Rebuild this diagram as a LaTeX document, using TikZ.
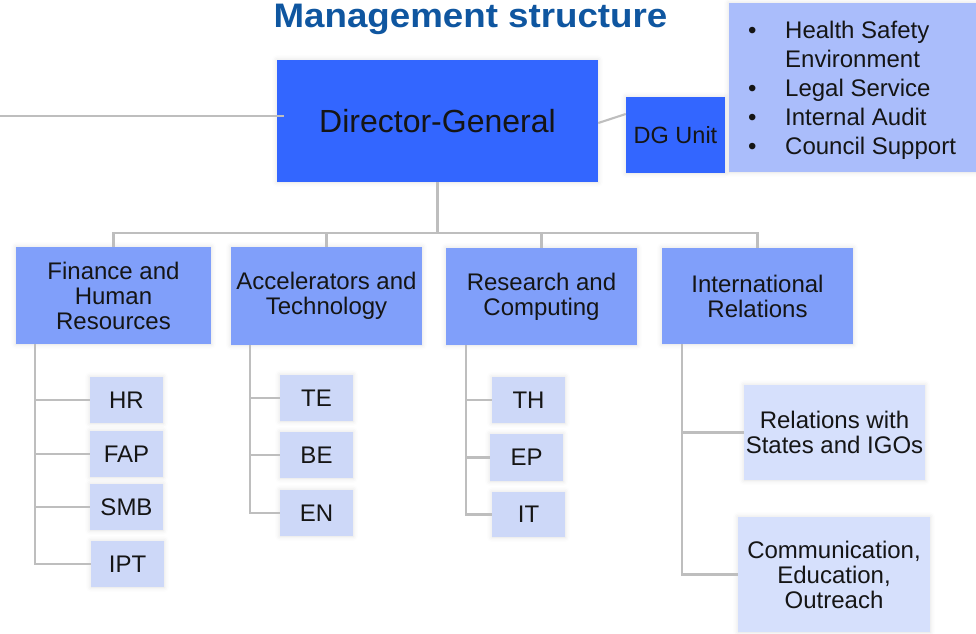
\documentclass[tikz,border=0pt]{standalone}
\usepackage{fontspec}
\setmainfont{Liberation Sans}
\newfontfamily\headfont{Liberation Sans}[FakeStretch=1.08]
\usetikzlibrary{shadows.blur}

\definecolor{dgblue}{HTML}{3366FF}
\definecolor{deptblue}{HTML}{809FFA}
\definecolor{listblue}{HTML}{AABDFB}
\definecolor{unitblue}{HTML}{CDD8F8}
\definecolor{irblue}{HTML}{D6E0FC}
\definecolor{headblue}{HTML}{0F56A0}
\definecolor{linkgray}{HTML}{BEBEBE}
\definecolor{ink}{HTML}{151515}

\begin{document}
\begin{tikzpicture}[x=1pt,y=-1pt,
  box/.style={rectangle, inner sep=0pt, align=center, text=ink,
    font=\fontsize{24}{25}\selectfont,
    blur shadow={shadow xshift=0pt, shadow yshift=0pt,
      shadow blur radius=5pt, shadow opacity=12}},
  topbox/.style={box, fill=dgblue},
  deptbox/.style={box, fill=deptblue, minimum width=191pt, minimum height=97pt},
  unitbox/.style={box, fill=unitblue, minimum width=73pt, minimum height=46pt},
  irbox/.style={box, fill=irblue},
  link/.style={draw=linkgray, line width=2.1pt}
]
\useasboundingbox (0,0) rectangle (976,633);

% heading
\node[anchor=base, inner sep=0pt, text=headblue,
  font=\headfont\bfseries\fontsize{34}{34}\selectfont] (title) at (470.5,27) {Management structure};

% top level
\node[topbox, minimum width=321pt, minimum height=122pt,
  font=\fontsize{32}{34}\selectfont] (dg) at (437.5,121) {Director-General};
\node[topbox, minimum width=99pt, minimum height=76pt,
  font=\fontsize{23.5}{25}\selectfont] (unit) at (675.5,135) {DG Unit};

% services attached to the DG unit
\node[box, fill=listblue, minimum width=247pt, minimum height=169pt] (services) at (852.5,87.5) {};
\node[anchor=base west, inner sep=0pt, text=ink, align=left,
  font=\fontsize{24}{29.2}\selectfont] (servicelist) at (748,38)
  {\begin{tabular}[t]{@{}p{37pt}@{}l@{}}
   \textbullet & Health Safety\\
               & Environment\\
   \textbullet & Legal Service\\
   \textbullet & Internal Audit\\
   \textbullet & Council Support
   \end{tabular}};

% departments
\node[deptbox, minimum width=195pt] (fin) at (113.5,295.5) {Finance and\\Human\\Resources};
\node[deptbox, minimum height=98pt] (acc) at (326.5,296) {Accelerators and\\Technology};
\node[deptbox] (rc) at (541.5,296.5) {Research and\\Computing};
\node[deptbox, minimum height=96pt] (ir) at (757.5,296) {International\\Relations};

% groups
\node[unitbox] (hr)  at (126.5,400) {HR};
\node[unitbox] (fap) at (126.5,454) {FAP};
\node[unitbox] (smb) at (126.5,507) {SMB};
\node[unitbox] (ipt) at (127.5,564) {IPT};

\node[unitbox] (te) at (316.5,398) {TE};
\node[unitbox] (be) at (316.5,455) {BE};
\node[unitbox] (en) at (316.5,513) {EN};

\node[unitbox] (th) at (528.5,400) {TH};
\node[unitbox, minimum height=47pt] (ep) at (526.5,457.5) {EP};
\node[unitbox, minimum height=45pt] (it) at (528.5,514.5) {IT};

\node[irbox, minimum width=181pt, minimum height=95pt] (rel) at (834.5,432.5) {Relations with\\States and IGOs};
\node[irbox, minimum width=192pt, minimum height=115pt] (com) at (834,574.5) {Communication,\\Education,\\Outreach};

% external link on the left
\coordinate (edge) at (0,116);
\path (edge -| dg.west) coordinate (dgin);
\draw[link] (edge) -- ([xshift=7pt]dgin);

% DG to DG unit
\draw[link] ([yshift=-2pt]dg.east) -- ([yshift=21pt]unit.west);

% DG to departments
\draw[link] (dg.south) -- ++(0,51) coordinate (hub);
\draw[link] (fin.north) |- (hub) -| (ir.north);
\draw[link] (acc.north) |- (hub);
\draw[link] (rc.north) |- (hub);

% department rails
\coordinate (finrail) at ([xshift=-78.5pt]fin.south);
\draw[link] (finrail) |- (ipt.west);
\foreach \g in {hr,fap,smb} \draw[link] (\g.west) -- (\g.west -| finrail);

\coordinate (accrail) at ([xshift=-76.5pt]acc.south);
\draw[link] (accrail) |- (en.west);
\foreach \g in {te,be} \draw[link] (\g.west) -- (\g.west -| accrail);

\coordinate (rcrail) at ([xshift=-75.5pt]rc.south);
\draw[link] (rcrail) |- (it.west);
\foreach \g in {th,ep} \draw[link] (\g.west) -- (\g.west -| rcrail);

\coordinate (irrail) at ([xshift=-75.5pt]ir.south);
\draw[link] (irrail) |- (com.west);
\draw[link] (rel.west) -- (rel.west -| irrail);
\end{tikzpicture}
\end{document}
